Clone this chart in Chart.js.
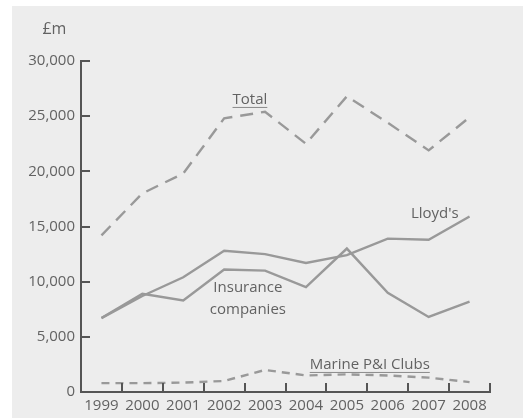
<!DOCTYPE html>
<html>
<head>
<meta charset="utf-8">
<script src="https://cdn.jsdelivr.net/npm/chart.js@4.4.0/dist/chart.umd.min.js"></script>
<style>
  html, body { margin: 0; padding: 0; background: #fff; }
  #wrap { width: 523px; height: 418px; position: relative; }
</style>
</head>
<body>
<div id="wrap"><canvas id="chart"></canvas></div>
<script>
// values in £m
const years = ['1999', '2000', '2001', '2002', '2003', '2004', '2005', '2006', '2007', '2008'];
const total = [14200, 18000, 19800, 24800, 25400, 22500, 26800, 24400, 21900, 24900];
const lloyds = [6700, 8700, 10400, 12800, 12500, 11700, 12400, 13900, 13800, 15900];
const insurance = [6700, 8900, 8300, 11100, 11000, 9500, 13000, 9000, 6800, 8200];
const marine = [800, 800, 850, 1000, 2000, 1500, 1600, 1500, 1300, 900];
const yTicks = [0, 5000, 10000, 15000, 20000, 25000, 30000];

const FONT = '"Open Sans", sans-serif';
const TEXT = '#626262';
const LINE = '#999999';
const AXIS = '#555';

// in-chart labels, placed by category index / value
const notes = [
  { text: '£m', cat: -1.15, val: 32900, size: 16 },
  { text: 'Total', cat: 3.63, val: 26470, underline: true },
  { text: "Lloyd's", cat: 8.15, val: 16130 },
  { text: 'Insurance', cat: 3.58, val: 9430 },
  { text: 'companies', cat: 3.58, val: 7430 },
  { text: 'Marine P&I Clubs', cat: 6.56, val: 2450, underline: true },
];

const frame = {
  id: 'frame',
  beforeDraw(chart) {
    const { ctx } = chart;
    ctx.save();
    ctx.fillStyle = '#ededed';
    ctx.fillRect(12, 6, chart.width - 12, chart.height - 6);
    ctx.restore();
  },
  afterDraw(chart) {
    const { ctx, scales: { x, y } } = chart;
    ctx.save();
    // inward tick marks
    ctx.strokeStyle = AXIS;
    ctx.lineWidth = 2;
    ctx.beginPath();
    yTicks.forEach(v => {
      const py = Math.round(y.getPixelForValue(v));
      ctx.moveTo(x.left, py);
      ctx.lineTo(x.left + 9, py);
    });
    for (let i = 1; i <= years.length; i++) {
      const px = Math.round(x.getPixelForValue(i - 0.5));
      ctx.moveTo(px, y.bottom);
      ctx.lineTo(px, y.bottom - 9);
    }
    ctx.stroke();

    // annotations
    ctx.fillStyle = TEXT;
    ctx.textAlign = 'center';
    ctx.textBaseline = 'middle';
    notes.forEach(n => {
      ctx.font = (n.size || 15) + 'px ' + FONT;
      const px = x.getPixelForValue(n.cat);
      const py = y.getPixelForValue(n.val);
      ctx.fillText(n.text, px, py);
      if (n.underline) {
        const w = ctx.measureText(n.text).width;
        ctx.strokeStyle = '#8a8a8a';
        ctx.lineWidth = 1;
        ctx.beginPath();
        ctx.moveTo(px - w / 2, py + 7.5);
        ctx.lineTo(px + w / 2, py + 7.5);
        ctx.stroke();
      }
    });
    ctx.restore();
  }
};

function series(data, dash) {
  return {
    data,
    borderColor: LINE,
    borderWidth: 2.4,
    borderDash: dash,
    pointRadius: 0,
    tension: 0,
    fill: false,
  };
}

new Chart(document.getElementById('chart'), {
  type: 'line',
  data: {
    labels: years,
    datasets: [
      series(total, [13, 8]),
      series(lloyds, []),
      series(insurance, []),
      series(marine, [8, 6]),
    ],
  },
  options: {
    responsive: true,
    maintainAspectRatio: false,
    animation: false,
    layout: { padding: { top: 61, right: 33, bottom: 0, left: 0 } },
    plugins: { legend: { display: false }, tooltip: { enabled: false } },
    scales: {
      x: {
        offset: true,
        grid: { display: false, drawTicks: false },
        border: { color: AXIS, width: 2 },
        ticks: { color: TEXT, font: { family: FONT, size: 15 }, padding: 5, maxRotation: 0, autoSkip: false },
        afterFit(scale) { scale.height = 26; },
      },
      y: {
        min: 0,
        max: 30000,
        grid: { display: false, drawTicks: false },
        border: { color: AXIS, width: 2 },
        afterBuildTicks(scale) { scale.ticks = yTicks.map(v => ({ value: v })); },
        ticks: {
          color: TEXT,
          font: { family: FONT, size: 15 },
          padding: 6,
          callback: v => v.toLocaleString('en-GB'),
        },
        afterFit(scale) { scale.width = 81; },
      },
    },
  },
  plugins: [frame],
});
</script>
</body>
</html>
